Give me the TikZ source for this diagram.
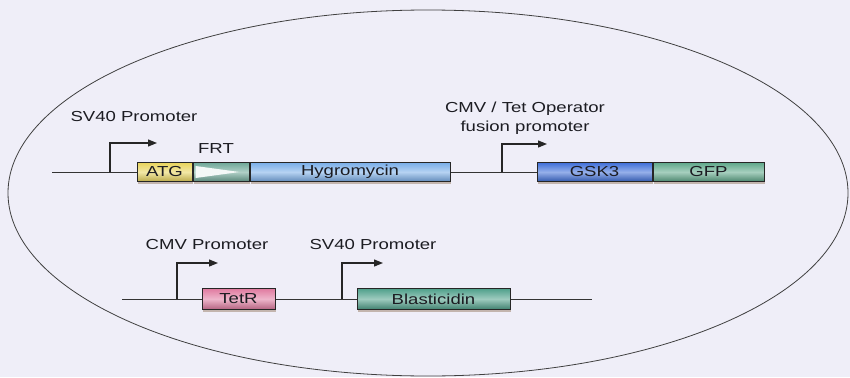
\documentclass[tikz,border=0pt]{standalone}
\usepackage{fontspec}
\setmainfont[FakeStretch=1.28]{Liberation Sans}
\usepackage{tikz}
\usetikzlibrary{arrows.meta, positioning, shadows}
\definecolor{bgpale}{HTML}{EFEEF8}
\definecolor{atgyel}{HTML}{E8D45C}
\definecolor{frtteal}{HTML}{6FA898}
\definecolor{hygblue}{HTML}{7AAEE8}
\definecolor{gskblue}{HTML}{3F6FD8}
\definecolor{gfpgreen}{HTML}{5FA88A}
\definecolor{tetpink}{HTML}{E07AA0}
\definecolor{blagreen}{HTML}{4FA08A}
\definecolor{inkdark}{HTML}{1C1C22}

\begin{document}
\begin{tikzpicture}[
  x=1pt, y=-1pt,
  gene/.style={rectangle, draw=black!85, line width=1pt,
    minimum height=19pt, inner sep=0pt,
    font=\fontsize{14.5}{15}\selectfont, text=inkdark,
    top color=#1, bottom color=#1!80!black, middle color=#1!55!white,
    drop shadow={shadow xshift=0.5pt, shadow yshift=-2pt,
      opacity=0.35, fill=brown!60!black}},
  dna/.style={line width=0.9pt, draw=black!80},
  prom/.style={-{Triangle[length=9pt, width=7pt]}, line width=1.2pt, draw=black!85},
  lbl/.style={font=\fontsize{14.5}{19}\selectfont, text=inkdark,
    align=center, inner sep=0pt}
]
  % background and cell outline
  \fill[bgpale] (0,0) rectangle (850,377);
  \draw[line width=0.8pt, black!75] (428,193) ellipse [x radius=420, y radius=183];

  % upper construct
  \coordinate (s1) at (52,172);
  \node[gene=atgyel, minimum width=55pt] (atg) at (164.5,172) {ATG};
  \node[gene=frtteal, minimum width=56pt, right=0pt of atg] (frt) {};
  \node[gene=hygblue, minimum width=200pt, right=0pt of frt] (hyg) {Hygromycin};
  \node[gene=gskblue, minimum width=115pt] (gsk) at (594.5,172) {GSK3};
  \node[gene=gfpgreen, minimum width=111pt, right=0pt of gsk] (gfp) {GFP};
  \fill[white!92!frtteal] ([shift={(3pt,-4pt)}]frt.north west)
    -- ([shift={(3pt,4pt)}]frt.south west) -- ([xshift=-10pt]frt.east) -- cycle;

  \draw[dna] (s1) -- (atg.west);
  \draw[dna] (hyg.east) -- (gsk.west);

  \coordinate (p1) at (110,172);
  \coordinate (p2) at (502,172);
  \draw[prom] (p1) -- ++(0,-29) -- ++(47,0);
  \draw[prom] (p2) -- ++(0,-28) -- ++(45,0);

  \node[lbl] (sv1) at (134,117) {SV40 Promoter};
  \node[lbl] (frtl) at (216,149) {FRT};
  \node[lbl] (cmvtet) at (525,118) {CMV / Tet Operator\\fusion promoter};

  % lower construct
  \coordinate (s2) at (122,299);
  \coordinate (e2) at (592,299);
  \node[gene=tetpink, minimum width=73pt, minimum height=21pt] (tetr) at (238.5,299) {TetR};
  \node[gene=blagreen, minimum width=153pt, minimum height=21pt] (bla) at (433.5,299) {Blasticidin};

  \draw[dna] (s2) -- (tetr.west);
  \draw[dna] (tetr.east) -- (bla.west);
  \draw[dna] (bla.east) -- (e2);

  \coordinate (p3) at (177,299);
  \coordinate (p4) at (342,299);
  \draw[prom] (p3) -- ++(0,-36) -- ++(41,0);
  \draw[prom] (p4) -- ++(0,-36) -- ++(41,0);

  \node[lbl] (cmv) at (207,245) {CMV Promoter};
  \node[lbl] (sv2) at (373,245) {SV40 Promoter};
\end{tikzpicture}
\end{document}
